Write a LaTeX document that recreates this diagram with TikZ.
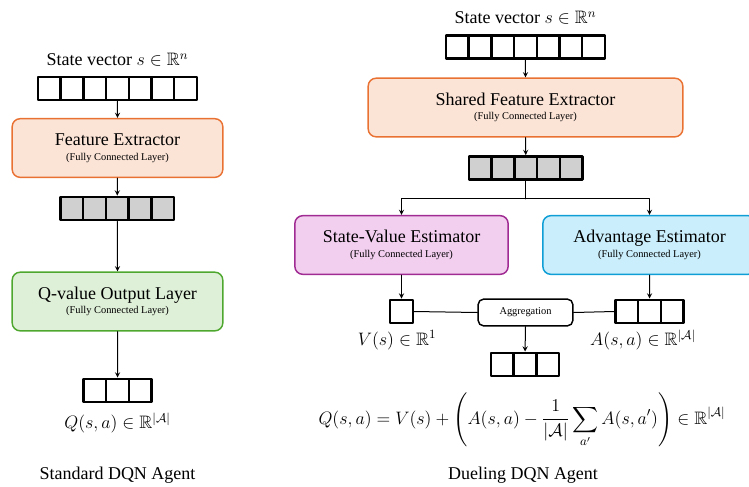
\RequirePackage{fix-cm}
\documentclass[tikz,border=0pt]{standalone}
\usepackage{amssymb}
\usepackage{fontspec}
\setmainfont{Liberation Serif}
\definecolor{orgfill}{HTML}{FBE3D6}
\definecolor{orgline}{HTML}{E97132}
\definecolor{grnfill}{HTML}{DFF0D8}
\definecolor{grnline}{HTML}{4EA72E}
\definecolor{purfill}{HTML}{F2CEEF}
\definecolor{purline}{HTML}{A02B93}
\definecolor{blufill}{HTML}{CAEEFB}
\definecolor{bluline}{HTML}{0F9ED5}
\definecolor{cellgray}{HTML}{D0D0D0}
\tikzset{
  cell/.style={draw, line width=1.9pt, inner sep=0pt, minimum width=17pt, minimum height=17.5pt},
  layer/.style={draw, line width=1.1pt, rounded corners=6pt, minimum height=44pt, align=center, inner sep=2pt},
  lbl/.style={font=\fontsize{13.5}{16}\selectfont},
}
\newcommand{\laytext}[1]{{\fontsize{13.5}{16}\selectfont #1}\\[-1pt]{\fontsize{7.8}{9}\selectfont (Fully Connected Layer)}}
\begin{document}
\begin{tikzpicture}[line cap=round,line join=round,>=stealth,x=0.75pt,y=-0.75pt,line width=0.75pt]
	\useasboundingbox (0,0) rectangle (749,486);
	\clip (0,0) rectangle (749,486);
	\def\cw{22.7}
	% Standard DQN (left column)
	\node[lbl] (stL) at (117.5,60) {State vector $s\in\mathbb{R}^n$};
	\foreach \i in {1,...,7} {
		\node[cell] (inL\i) at ({38+(\i-0.5)*\cw},88.5) {};
	}
	\node[layer, fill=orgfill, draw=orgline, minimum width=158pt] (featL) at (117.5,148) {\laytext{Feature Extractor}};
	\foreach \i in {1,...,5} {
		\node[cell, fill=cellgray] (hidL\i) at ({60.5+(\i-0.5)*\cw},208.5) {};
	}
	\node[layer, fill=grnfill, draw=grnline, minimum width=158pt] (qL) at (117.5,301.5) {\laytext{Q-value Output Layer}};
	\foreach \i in {1,...,3} {
		\node[cell] (outL\i) at ({83.5+(\i-0.5)*\cw},390.5) {};
	}
	\node[lbl] (qlabL) at (117.5,423) {$Q(s,a)\in\mathbb{R}^{|\mathcal{A}|}$};
	\node[lbl] (titL) at (117.5,475) {Standard DQN Agent};
	\draw[->] (inL4.south) -- (featL.north);
	\draw[->] (featL.south) -- (hidL3.north);
	\draw[->] (hidL3.south) -- (qL.north);
	\draw[->] (qL.south) -- (outL2.north);
	% Dueling DQN (right column)
	\node[lbl] (stR) at (525.5,18) {State vector $s\in\mathbb{R}^n$};
	\foreach \i in {1,...,7} {
		\node[cell] (inR\i) at ({446+(\i-0.5)*\cw},47) {};
	}
	\node[layer, fill=orgfill, draw=orgline, minimum width=236pt] (featR) at (525.5,107.5) {\laytext{Shared Feature Extractor}};
	\foreach \i in {1,...,5} {
		\node[cell, fill=cellgray] (hidR\i) at ({469+(\i-0.5)*\cw},168) {};
	}
	\node[layer, fill=purfill, draw=purline, minimum width=160pt] (valR) at (401.5,245) {\laytext{State-Value Estimator}};
	\node[layer, fill=blufill, draw=bluline, minimum width=160pt] (advR) at (649.5,245) {\laytext{Advantage Estimator}};
	\node[cell] (vR) at (401.5,311.5) {};
	\foreach \i in {1,...,3} {
		\node[cell] (aR\i) at ({615.5+(\i-0.5)*\cw},311.5) {};
	}
	\node[draw, line width=1.1pt, rounded corners=4pt, minimum width=71pt, minimum height=20pt, inner sep=1pt, font=\fontsize{7.8}{9}\selectfont] (agg) at (525.5,312.5) {Aggregation};
	\foreach \i in {1,...,3} {
		\node[cell] (qR\i) at ({491+(\i-0.5)*\cw},364.5) {};
	}
	\node[lbl] (vlab) at (397,340) {$V(s)\in\mathbb{R}^{1}$};
	\node[lbl] (alab) at (643,340) {$A(s,a)\in\mathbb{R}^{|\mathcal{A}|}$};
	\node[lbl] (eqR) at (522,420) {$\displaystyle Q(s,a)=V(s)+\left(A(s,a)-\frac{1}{|\mathcal{A}|}\sum_{a'}A(s,a')\right)\in\mathbb{R}^{|\mathcal{A}|}$};
	\node[lbl] (titR) at (523,475) {Dueling DQN Agent};
	% Connectors
	\draw[->] (inR4.south) -- (featR.north);
	\draw[->] (featR.south) -- (hidR3.north);
	\draw (hidR3.south) -- ++(0,18) coordinate (split);
	\draw[->] (split) -| (valR.north);
	\draw[->] (split) -| (advR.north);
	\draw[->] (valR.south) -- (vR.north);
	\draw[->] (advR.south) -- (aR2.north);
	\draw (vR.east) -- (agg.west);
	\draw (agg.east) -- (aR1.west);
	\draw[->] (agg.south) -- (qR2.north);
\end{tikzpicture}
\end{document}
